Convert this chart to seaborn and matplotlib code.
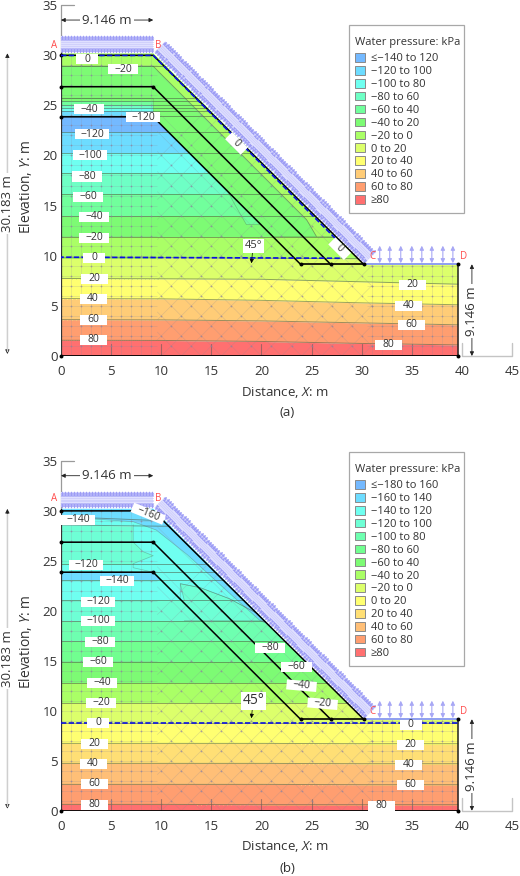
import numpy as np
import matplotlib
matplotlib.use("Agg")
import matplotlib.pyplot as plt
from matplotlib.patches import Polygon, Patch, Rectangle
from matplotlib.collections import LineCollection
import seaborn as sns

sns.set_style("white")
plt.rcParams['font.family'] = ['Open Sans', 'DejaVu Sans']
plt.rcParams['mathtext.fontset'] = 'custom'
plt.rcParams['mathtext.rm'] = 'Open Sans'
plt.rcParams['mathtext.it'] = 'Open Sans:italic'

# ---------- geometry ----------
WIDTH = 39.65
CREST_X = 9.2
CREST_Y = 30.183
TOE_X = 30.2
TOE_Y = 9.146
layer_y = [23.85, 26.85]
layer_toe_x = [23.9, 26.9]
load_xs = [31.8, 32.8, 33.9, 35.0, 36.0, 37.0, 38.1, 39.1]
cut_xs = [5, 10, 15, 20, 25, 30, 35]
domain = [(0, 0), (WIDTH, 0), (WIDTH, TOE_Y), (TOE_X, TOE_Y), (CREST_X, CREST_Y), (0, CREST_Y)]

# ---------- contour edges (elevation at each x) ----------
edge_x = [0, 10, 20, 30, 40]

a_edges = [
    [1.57, 1.55, 1.45, 1.25, 1.1],
    [3.63, 3.6, 3.5, 3.3, 3.1],
    [5.73, 5.7, 5.55, 5.3, 5.1],
    [7.73, 7.7, 7.65, 7.4, 7.15],
    [9.8, 9.8, 9.75, 9.7, 9.7],
    [11.9, 11.9, 11.9, 11.9, 11.9],
    [13.93, 13.93, 13.93, 13.93, 13.93],
    [16.17, 16.17, 16.17, 16.17, 16.17],
    [18.2, 18.2, 18.2, 18.2, 18.2],
    [20.2, 20.2, 20.2, 20.2, 20.2],
    [22.3, 22.3, 22.3, 22.3, 22.3],
    [23.9, 23.9, 23.9, 23.9, 23.9],
    [24.4, 24.4, 24.4, 24.4, 24.4],
    [24.7, 24.7, 24.7, 24.7, 24.7],
    [25.05, 25.05, 25.05, 25.05, 25.05],
    [25.4, 25.4, 25.4, 25.4, 25.4],
    [25.7, 25.7, 25.7, 25.7, 25.7],
    [28.9, 28.9, 28.9, 28.9, 28.9],
]
a_band_colors = ['#ff7070', '#ff9e70', '#ffcc77', '#ffff71', '#dcff6b', '#aaff66', '#7dfb74', '#71ff9c',
                 '#6effc5', '#6ffff0', '#6ddcff', '#74b9ff', '#6ddcff', '#6ffff0', '#6effc5', '#71ff9c',
                 '#7dfb74', '#7dfb74', '#aaff66']

b_edges = [
    [0.63, 0.63, 0.6, 0.6, 0.6],
    [2.63, 2.63, 2.63, 2.6, 2.6],
    [4.73, 4.73, 4.73, 4.7, 4.7],
    [6.73, 6.73, 6.73, 6.7, 6.7],
    [8.77, 8.77, 8.77, 8.77, 8.77],
    [10.8, 10.8, 10.8, 10.8, 10.8],
    [12.8, 12.8, 12.8, 12.8, 12.8],
    [14.9, 14.9, 14.9, 14.9, 14.9],
    [16.97, 16.97, 16.97, 16.97, 16.97],
    [19.0, 19.0, 19.0, 19.0, 19.0],
    [21.03, 21.03, 21.03, 21.03, 21.03],
    [23.07, 23.07, 23.07, 23.07, 23.07],
    [23.9, 23.9, 23.9, 23.9, 23.9],
    [24.7, 24.7, 24.7, 24.7, 24.7],
    [28.57, 28.45, 28.45, 28.45, 28.45],
    [29.4, 29.0, 29.0, 29.0, 29.0],
]
b_band_colors = ['#ff7070', '#ff9e70', '#ffbf77', '#ffdf75', '#ffff71', '#dcff6b', '#aaff66', '#7dfb74',
                 '#71ff90', '#6effb0', '#6effd5', '#6ffff0', '#6ddcff', '#6ffff0', '#6effd5', '#6ffff0',
                 '#6ddcff']

# slope-layer regions
a_green_x = [0, CREST_X, CREST_X, 21.15, 25.5, 24.5, CREST_X, 0]
a_green_y = [25.7, 25.7, 23.85, 11.9, 11.9, 13.6, 28.9, 28.9]
a_strip_x = [CREST_X, 24.5, 25.5, 32, 32, CREST_X]
a_strip_y = [28.9, 13.6, 11.9, 11.9, 31, 31]
a_face_x = [14.5, 20, 18.5, 17.4, 16.6, 14.5]
a_face_y = [18.6, 13.1, 13.1, 15, 16.5, 18.6]

b_teal_x = [12.3, 11.9, 13.9, 16.8, 19.8, 24, 12.3]
b_teal_y = [21.03, 22.7, 22.3, 21.2, 19.6, 19, 19]
b_cyan_x = [7.2, 7.2, 8.2, 9.2, 7.2, 7.2, CREST_X, 11.9, 11.9, 13.9, 16.8, 19.8, 24, 24, 7.2]
b_cyan_y = [28.6, 26.85, 25.9, 25.5, 24.7, 24.3, 23.85, 21.1, 22.7, 22.3, 21.2, 19.6, 19.6, 31, 31]
b_blue_x = [0, 7.2, 9.5, 12.6, 17.2, 19.8, 20.3, 30, 30, 0]
b_blue_y = [29.4, 28.9, 28.07, 25.6, 21.4, 19.07, 18.8, 18.8, 31, 31]

# 0-kPa water line of panel (a) and (b)
a_zero_x = [0, CREST_X, 27.6, 28.3, 28.0, 15, 0]
a_zero_y = [29.97, 29.97, 11.5, 10.4, 9.75, 9.8, 9.85]
b_zero_x = [0, WIDTH]
b_zero_y = [8.77, 8.77]

# ---------- contour labels ----------
a_labels = ['0', '−20', '−40', '−120', '−120', '−100', '−80', '−60', '−40', '−20', '0', '20', '40', '60', '80',
            '20', '40', '60', '80', '0', '0']
a_label_x = [2.6, 6.2, 2.8, 8.2, 3.1, 2.9, 2.6, 2.7, 3.3, 3.3, 3.3, 3.3, 3.2, 3.2, 3.2,
             35.1, 34.7, 35.0, 32.7, 17.5, 27.8]
a_label_y = [29.6, 28.6, 24.6, 23.8, 22.1, 20.0, 17.9, 15.9, 13.9, 11.8, 9.8, 7.7, 5.7, 3.6, 1.6,
             7.1, 5.0, 3.1, 1.1, 21.2, 10.7]
a_label_rot = [0] * 19 + [-45, -45]

b_labels = ['−160', '−140', '−120', '−140', '−120', '−100', '−80', '−60', '−40', '−20', '0', '20', '40', '60', '80',
            '0', '20', '40', '60', '80', '−20', '−40', '−60', '−80']
b_label_x = [8.7, 1.7, 2.5, 5.6, 3.7, 3.7, 3.9, 3.7, 4.1, 4.0, 3.7, 3.3, 3.2, 3.3, 3.3,
             34.9, 34.9, 34.7, 34.9, 32.0, 26.1, 24.0, 23.5, 20.9]
b_label_y = [29.7, 29.1, 24.6, 23.0, 20.9, 19.0, 16.9, 14.9, 12.8, 10.8, 8.8, 6.7, 4.7, 2.7, 0.6,
             8.6, 6.6, 4.6, 2.6, 0.5, 10.7, 12.5, 14.4, 16.3]
b_label_rot = [-22] + [0] * 19 + [-5, -5, 0, 0]

# ---------- legends ----------
a_legend_labels = ['≤−140 to 120', '−120 to 100', '−100 to 80', '−80 to 60', '−60 to 40', '−40 to 20',
                   '−20 to 0', '0 to 20', '20 to 40', '40 to 60', '60 to 80', '≥80']
a_legend_colors = ['#74b9ff', '#6ddcff', '#6ffff0', '#6effc5', '#71ff9c', '#7dfb74',
                   '#aaff66', '#dcff6b', '#ffff71', '#ffcc77', '#ff9e70', '#ff7070']
b_legend_labels = ['≤−180 to 160', '−160 to 140', '−140 to 120', '−120 to 100', '−100 to 80', '−80 to 60',
                   '−60 to 40', '−40 to 20', '−20 to 0', '0 to 20', '20 to 40', '40 to 60', '60 to 80', '≥80']
b_legend_colors = ['#74b9ff', '#6ddcff', '#6ffff0', '#6effd5', '#6effb0', '#71ff90', '#7dfb74',
                   '#aaff66', '#dcff6b', '#ffff71', '#ffdf75', '#ffbf77', '#ff9e70', '#ff7070']

x_ticks = [0, 5, 10, 15, 20, 25, 30, 35, 40, 45]
y_ticks = [0, 5, 10, 15, 20, 25, 30, 35]

TEXT = '#333333'
LOAD_DARK = '#9c9cf5'
LOAD_PALE = '#e0e0ff'
BOX_W = {1: 2.2, 2: 2.7, 3: 3.0, 4: 3.4}


def line(ax, x, y, color='black', lw=1.1, z=6, clip=None, **kw):
    sns.lineplot(x=x, y=y, ax=ax, color=color, linewidth=lw, sort=False, estimator=None,
                 legend=False, zorder=z, errorbar=None, **kw)
    art = ax.lines[-1]
    if clip is not None:
        art.set_clip_path(clip)
    return art


def load_band(ax, x0, y0, x1, y1, nx, ny):
    """purple band of double arrows standing on the surface (x0,y0)-(x1,y1), normal (nx,ny)"""
    lo, hi = 0.15, 1.7
    corners = [(x0 + nx * lo, y0 + ny * lo), (x1 + nx * lo, y1 + ny * lo),
               (x1 + nx * hi, y1 + ny * hi), (x0 + nx * hi, y0 + ny * hi)]
    ax.add_patch(Polygon(corners, fc=LOAD_PALE, ec='none', zorder=3))
    length = np.hypot(x1 - x0, y1 - y0)
    t = np.arange(0.1, length, 0.3) / length
    px, py = x0 + (x1 - x0) * t, y0 + (y1 - y0) * t
    ang = np.degrees(np.arctan2(ny, nx)) - 90
    up = (3, 0, ang)
    down = (3, 0, ang + 180)
    for off, mark in ((1.62, up), (1.42, up), (0.24, down), (0.44, down)):
        ax.scatter(px + nx * off, py + ny * off, marker=mark, s=9, c=LOAD_DARK, linewidths=0, zorder=4, clip_on=False)
    for off in (0.75, 0.93, 1.11):
        ax.plot([x0 + nx * off, x1 + nx * off], [y0 + ny * off, y1 + ny * off], color='#cdcdfb', lw=0.6, zorder=4)


def mesh(ax, clip):
    segs, nodes = [], []
    for x in range(0, 10):
        segs.append([(x, 0), (x, 31)])
    for y in range(1, 31):
        segs.append([(0, y), (9.6, y)])
        for x in range(0, 10):
            nodes.append((x, y))
    for x in range(31, 40):
        segs.append([(x, 0), (x, TOE_Y)])
    for y in range(1, 10):
        segs.append([(30.5, y), (WIDTH, y)])
        for x in range(31, 40):
            nodes.append((x, y))
    for c in range(10, 62, 2):
        segs.append([(9.6, c - 9.6), (31, c - 31)])
    for c in range(-10, 32, 2):
        segs.append([(9.6, 9.6 - c), (31, 31 - c)])
    for c1 in range(10, 62, 2):
        for c2 in range(-10, 32, 2):
            x, y = (c1 + c2) / 2, (c1 - c2) / 2
            if 9.6 <= x <= 31:
                nodes.append((x, y))
    lc = LineCollection(segs, colors='#8a8a9a', linewidths=0.4, alpha=0.32, zorder=2)
    ax.add_collection(lc)
    lc.set_clip_path(clip)
    nodes = np.array(nodes)
    sc = ax.scatter(nodes[:, 0], nodes[:, 1], s=1.6, c='#8d7f9f', linewidths=0, alpha=0.7, zorder=2.5)
    sc.set_clip_path(clip)


def panel(fig, top_px, y0_px, edges, colors, labels, lx, ly, lrot, leg_labels, leg_colors, leg_top, leg_bottom,
          zero_x, zero_y, letter, regions, deg_size, deg_y, arrow_top, labelsz_y, caption_y):
    height = y0_px - top_px
    ax = fig.add_axes([61 / 520, (876 - y0_px) / 876, 451 / 520, height / 876])
    ax.set_xlim(0, 45)
    ax.set_ylim(0, 35)
    sns.despine(ax=ax, left=True, bottom=True, top=True, right=True)

    clip = Polygon(domain, closed=True, transform=ax.transData, fc='none', ec='none')
    ax.add_patch(clip)

    # coloured bands
    rows = [[0] * len(edge_x)] + edges + [[32] * len(edge_x)]
    for i, col in enumerate(colors):
        art = ax.fill_between(edge_x, rows[i], rows[i + 1], color=col, linewidth=0, zorder=1)
        art.set_clip_path(clip)
    for rx, ry, col in regions:
        art = ax.fill(rx, ry, color=col, linewidth=0, zorder=1.2)[0]
        art.set_clip_path(clip)
    for row in edges:
        line(ax, edge_x, row, color='#4d5a45', lw=0.7, z=1.5, clip=clip, alpha=0.55)
    for rx, ry, col in regions:
        line(ax, rx, ry, color='#4d5a45', lw=0.5, z=1.5, clip=clip, alpha=0.35)
    for x in cut_xs:
        line(ax, [x, x], [0, 1.2], color='#6a5a5a', lw=0.8, z=1.6, clip=clip, alpha=0.6)

    mesh(ax, clip)

    # load arrows
    load_band(ax, 0, CREST_Y, CREST_X, CREST_Y, 0, 1)
    n = np.sqrt(0.5)
    load_band(ax, CREST_X, CREST_Y, TOE_X, TOE_Y, n, n)
    for x in load_xs:
        ax.annotate('', xy=(x, 11.0), xytext=(x, 9.25), zorder=4,
                    arrowprops=dict(arrowstyle='<|-|>', color='#a8a8f5', lw=0.8, mutation_scale=6,
                                    shrinkA=0, shrinkB=0))
    line(ax, [TOE_X, WIDTH], [TOE_Y, TOE_Y], color='#8f9ff0', lw=1.4, z=5)

    # soil layers and outline
    line(ax, [0, CREST_X, TOE_X], [CREST_Y - 0.2, CREST_Y - 0.2, TOE_Y], lw=1.1)
    for ly0, lx1 in zip(layer_y, layer_toe_x):
        line(ax, [0, CREST_X, lx1], [ly0, ly0, TOE_Y], lw=1.1)
    line(ax, [layer_toe_x[0], TOE_X], [TOE_Y, TOE_Y], lw=1.2)
    line(ax, [0, WIDTH], [0, 0], lw=1.3)
    line(ax, [WIDTH, WIDTH], [0, TOE_Y], color='#222222', lw=1.1)
    line(ax, [0, 0], [0, CREST_Y], color='#333333', lw=0.9)
    px = [0, 0, 0, CREST_X, CREST_X, layer_toe_x[0], layer_toe_x[1], TOE_X, 0, WIDTH, WIDTH]
    py = [CREST_Y - 0.2, layer_y[1], layer_y[0], layer_y[1], layer_y[0], TOE_Y, TOE_Y, TOE_Y, 0, 0, TOE_Y]
    ax.scatter(px, py, s=8, c='black', linewidths=0, zorder=7, clip_on=False)

    # axis frame
    frame = '#c4c4c4'
    line(ax, [0, 0, 1.3], [CREST_Y, 35, 35], color='#9a9a9a', lw=0.9, z=0.5).set_clip_on(False)
    line(ax, [40, 40, 45, 45], [1.3, 0, 0, 1.3], color=frame, lw=1.0, z=0.5).set_clip_on(False)

    # water line
    line(ax, zero_x, zero_y, color='#0a10e0', lw=1.2, z=8, linestyle=(0, (3.2, 1.4)))

    # contour labels
    for s, x, y, r in zip(labels, lx, ly, lrot):
        w = BOX_W[len(s)]
        ax.add_patch(Rectangle((x - w / 2, y - 0.5), w, 1.0, angle=r, rotation_point='center',
                               fc='white', ec='none', zorder=9))
        ax.text(x, y, s, ha='center', va='center', fontsize=7.5, color=TEXT, rotation=r,
                rotation_mode='anchor', zorder=10)

    # corner letters
    red = '#ff4d4d'
    for s, xx, yy in zip('ABCD', [-0.7, 9.7, 31.1, 40.2], [arrow_top[0], arrow_top[0], arrow_top[1], arrow_top[1]]):
        ax.text(xx, yy, s, color=red, fontsize=7, ha='center', va='center', zorder=11)

    # dimensions
    dim = dict(arrowstyle='<|-|>', color='#222222', lw=0.6, mutation_scale=6, shrinkA=0, shrinkB=0)
    ax.annotate('', xy=(0, 33.5), xytext=(CREST_X, 33.5), arrowprops=dim, annotation_clip=False)
    ax.text(CREST_X / 2, 33.5, '9.146 m', ha='center', va='center', fontsize=9.5, color=TEXT,
            bbox=dict(fc='white', ec='none', pad=1.5), zorder=5)
    ax.annotate('', xy=(-5.35, 0.2), xytext=(-5.35, CREST_Y), arrowprops=dim, annotation_clip=False)
    ax.plot([-5.35, -5.35], [0.5, CREST_Y - 0.5], color='#cfcfcf', lw=1.0, clip_on=False, zorder=3)
    ax.text(-5.35, 15.2, '30.183 m', ha='center', va='center', rotation=90, fontsize=9.5, color=TEXT,
            bbox=dict(fc='white', ec='none', pad=1.5), clip_on=False, zorder=5)
    ax.annotate('', xy=(41.0, 0), xytext=(41.0, TOE_Y), arrowprops=dim, annotation_clip=False)
    ax.text(41.0, 4.5, '9.146 m', ha='center', va='center', rotation=90, fontsize=9.5, color=TEXT,
            bbox=dict(fc='white', ec='none', pad=1.5), clip_on=False, zorder=5)

    # 45 degree note
    ax.text(19.2, deg_y, '45°', ha='center', va='center', fontsize=deg_size, color=TEXT, zorder=10,
            bbox=dict(fc='white', ec='none', pad=1.2))
    ax.annotate('', xy=(19.0, TOE_Y + 0.1), xytext=(19.1, deg_y - 0.7),
                arrowprops=dict(arrowstyle='-|>', color='black', lw=0.5, mutation_scale=6, shrinkA=0, shrinkB=0),
                zorder=9)

    # axes text
    ax.set_xticks(x_ticks)
    ax.set_yticks(y_ticks)
    ax.tick_params(axis='x', length=0, pad=6.5, labelsize=9.5, labelcolor=TEXT)
    ax.tick_params(axis='y', length=0, pad=2.5, labelsize=9.5, labelcolor=TEXT)
    ax.set_xlabel(r'Distance, $\mathit{X}$: m', fontsize=9.6, color=TEXT, va='center')
    ax.xaxis.set_label_coords((285 - 61) / 451, -labelsz_y / height)
    ax.set_ylabel(r'Elevation, $\mathit{Y}$: m', fontsize=10, color=TEXT, va='center')
    ax.yaxis.set_label_coords((25 - 61) / 451, 169 / height)
    ax.text((287 - 61) / 451, -caption_y / height, letter, transform=ax.transAxes, ha='center',
            va='center', fontsize=9.6, color=TEXT, clip_on=False)
    ax.grid(False)

    # legend: frame drawn to the reference's size, entries from the library's legend
    ax.add_patch(Rectangle(((348.7 - 61) / 451, (y0_px - leg_bottom) / height), 115.3 / 451,
                           (leg_bottom - leg_top) / height, transform=ax.transAxes, fc='white',
                           ec='#a8a8a8', lw=0.9, zorder=11, clip_on=False))
    handles = [Patch(facecolor=c, edgecolor='#8a8a8a', linewidth=0.7, label=s) for c, s in zip(leg_colors, leg_labels)]
    leg = ax.legend(handles=handles, title='Water pressure: kPa', loc='upper left',
                    bbox_to_anchor=((348.0 - 61) / 451, (y0_px - leg_top - 5) / height),
                    borderaxespad=0, fontsize=8.0, title_fontsize=8.0, alignment='left',
                    handlelength=0.85, handleheight=0.8, handletextpad=0.55, labelspacing=0.16,
                    borderpad=0.65, frameon=False)
    leg._legend_box.sep = 3.6
    leg.set_zorder(12)
    for t in leg.get_texts():
        t.set_color(TEXT)
    leg.get_title().set_color(TEXT)
    return ax


fig = plt.figure(figsize=(5.2, 8.76), dpi=100)

a_regions = [(a_green_x, a_green_y, '#7dfb74'), (a_strip_x, a_strip_y, '#aaff66'), (a_face_x, a_face_y, '#71ff9c')]
b_regions = [(b_teal_x, b_teal_y, '#6effd5'), (b_cyan_x, b_cyan_y, '#6ffff0'), (b_blue_x, b_blue_y, '#6ddcff')]

panel(fig, 5, 356, a_edges, a_band_colors, a_labels, a_label_x, a_label_y, a_label_rot,
      a_legend_labels, a_legend_colors, 25, 213, a_zero_x, a_zero_y, '(a)', a_regions,
      8, 11.0, (31.0, 9.9), 37, 57)
panel(fig, 460.7, 810.7, b_edges, b_band_colors, b_labels, b_label_x, b_label_y, b_label_rot,
      b_legend_labels, b_legend_colors, 452, 666, b_zero_x, b_zero_y, '(b)', b_regions,
      10, 11.0, (31.2, 9.9), 36.3, 57.3)

fig.savefig('out.png', dpi=100)
